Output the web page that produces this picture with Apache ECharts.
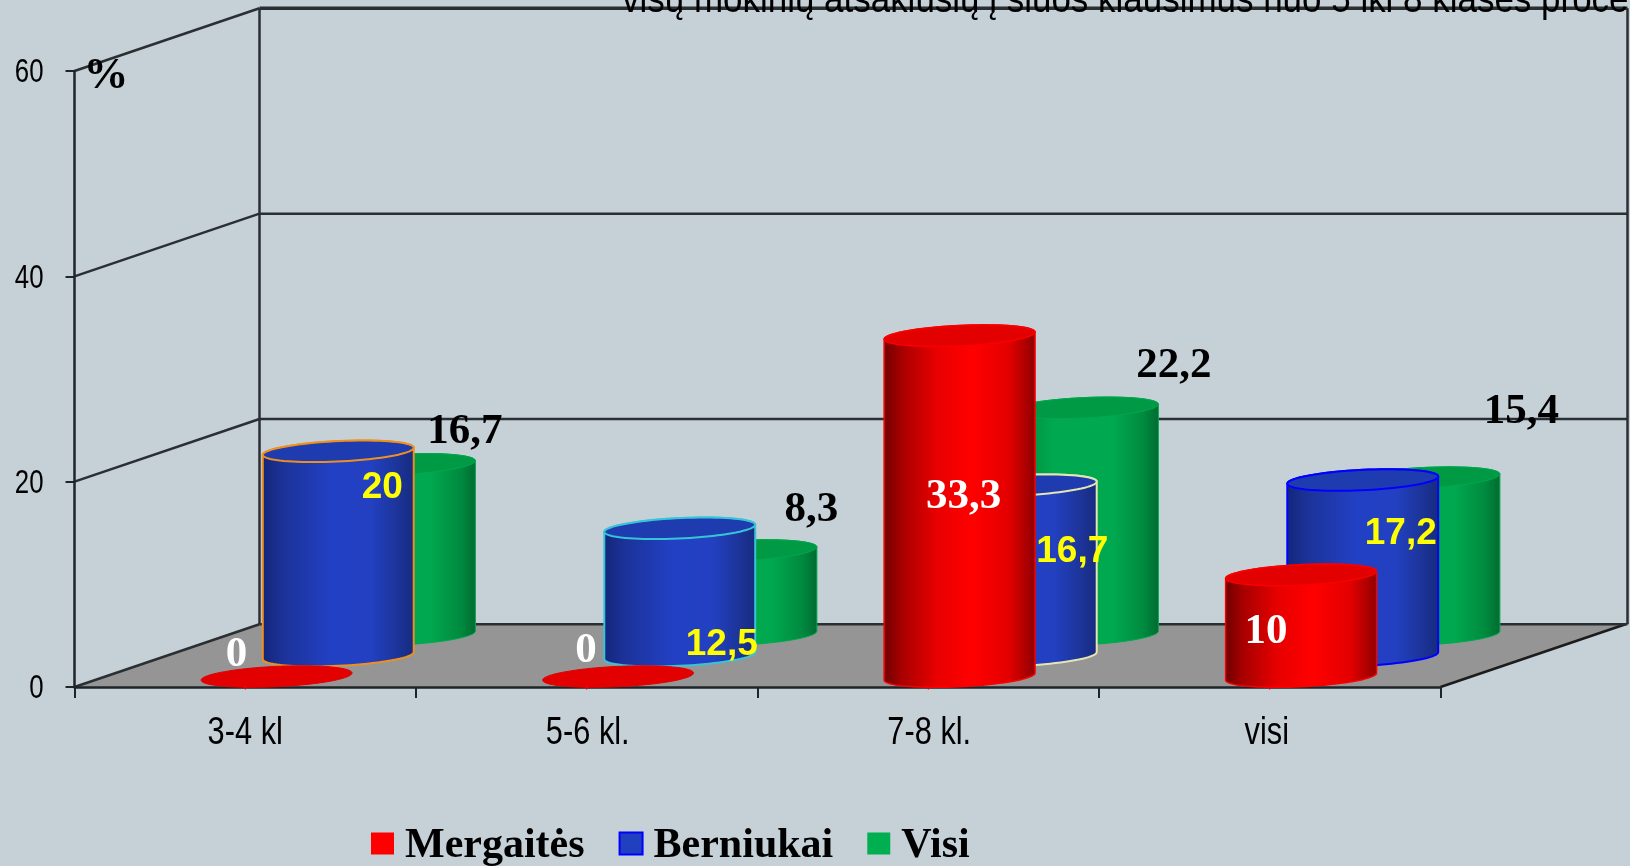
<!DOCTYPE html>
<html>
<head>
<meta charset="utf-8">
<style>html,body{margin:0;padding:0;background:#c5d0d7;overflow:hidden}#c{width:1630px;height:866px}</style>
<script src="https://cdn.jsdelivr.net/npm/echarts@6/dist/echarts.min.js"></script>
</head>
<body>
<div id="c"></div>
<script>
const categories = ['3-4 kl', '5-6 kl.', '7-8 kl.', 'visi'];
const mergaites = [0, 0, 33.3, 10];
const berniukai = [20, 12.5, 16.7, 17.2];
const visi = [16.7, 8.3, 22.2, 15.4];
const yTicks = [0, 20, 40, 60];
const titleText = 'visų mokinių atsakiusių į šiuos klausimus nuo 5 iki 8 klasės procentas';

/* label placement, px from the centre of each cylinder top */
const mergaitesShift = [[-40, -22], [-32, -26], [4, 162], [-35, 58]];
const berniukaiShift = [[44, 37], [42, 117], [51, 68], [38, 55]];
const visiShift = [[65, -31], [70, -40], [91, -41], [97, -65]];
const blueOutlines = ['#ee9020', '#38c4d8', '#e6e6b0', '#0000ff'];
/* horizontal nudge of the category captions, as they sit in the source */
const categoryLabelShift = [0, 1, 1, -3];

const DEPTH_X = 185, DEPTH_Y = -62.7;
const EL_A = 71.2, EL_VX = 25, EL_VY = 10.8;
const SERIF = '"Liberation Serif", serif';
const SANS = '"Liberation Sans", Arial, sans-serif';
const LINE = '#2a2f33';
const LINE_W = 2.5;
/* square swatch with an empty margin below, so it sits a little above the text centre */
const SWATCH = 'path://M0,0H23V22H0Z M0,28L0,28';

function hGrad(stops) {
  return {type: 'linear', x: 0, y: 0, x2: 1, y2: 0,
    colorStops: stops.map(s => ({offset: s[0], color: s[1]}))};
}
function ellipsePts(cx, cy, t0, t1, n) {
  const out = [];
  for (let i = 0; i <= n; i++) {
    const t = t0 + (t1 - t0) * i / n;
    out.push([cx + EL_A * Math.cos(t) + EL_VX * Math.sin(t), cy - EL_VY * Math.sin(t)]);
  }
  return out;
}
const tExt = Math.atan2(EL_VX, EL_A); /* parameter of the right-most point */

function cylinderSeries(cfg) {
  return {
    name: cfg.name, type: 'custom', coordinateSystem: 'cartesian2d', z: 2,
    itemStyle: {color: cfg.legend},
    encode: {x: 0, y: 1},
    data: cfg.values.map((v, i) => [i, v]),
    renderItem(params, api) {
      const i = api.value(0), v = api.value(1);
      const base = api.coord([i, 0]);
      const top = api.coord([i, v]);
      const cx = base[0] + DEPTH_X * cfg.depth + 0.5;
      const by = base[1] + DEPTH_Y * cfg.depth;
      const ty = top[1] + DEPTH_Y * cfg.depth + (v > 0 ? 1 : 0);
      const stroke = cfg.outlines ? cfg.outlines[i] : cfg.stroke;
      const sw = cfg.strokeWidth;
      const z = cfg.order * 10 + i;
      const upper = ellipsePts(cx, ty, tExt, tExt + Math.PI, 40);      /* right -> left over the back */
      const lower = ellipsePts(cx, by, tExt + Math.PI, tExt + 2 * Math.PI, 40); /* left -> right along the front */
      const topRing = ellipsePts(cx, ty, 0, Math.PI * 2, 80);
      const children = [];
      if (v > 0) {
        children.push({type: 'polygon', z2: z,
          shape: {points: upper.concat(lower)},
          style: {fill: hGrad(cfg.grad), stroke: stroke, lineWidth: sw}});
      }
      children.push({type: 'polygon', z2: z + 1,
        shape: {points: topRing},
        style: {fill: cfg.top, stroke: v > 0 ? stroke : cfg.top, lineWidth: v > 0 ? sw : 1}});
      if (cfg.blip) {
        children.push({type: 'polygon', z2: z + 2,
          shape: {points: [[base[0] - 2.5, base[1] - 1], [base[0] + 2.5, base[1] - 1], [base[0], base[1] + 3]]},
          style: {fill: '#f00000'}});
      }
      const sh = cfg.shift[i];
      children.push({type: 'text', z2: 200,
        style: {text: String(v).replace('.', ','), x: cx + sh[0], y: top[1] + DEPTH_Y * cfg.depth + sh[1],
          fill: cfg.labelColor, font: cfg.labelFont, align: 'center', verticalAlign: 'middle'}});
      return {type: 'group', children};
    }
  };
}

const wallSeries = {
  type: 'custom', coordinateSystem: 'cartesian2d', z: -1, silent: true,
  encode: {y: 0},
  data: yTicks.map(v => [v]),
  renderItem(params, api) {
    const cs = params.coordSys;
    const v = api.value(0);
    const y = api.coord([0, v])[1];
    const x0 = cs.x, x1 = cs.x + cs.width;
    const bx0 = x0 + DEPTH_X, bx1 = x1 + DEPTH_X, by = y + DEPTH_Y;
    const lw = {stroke: LINE, lineWidth: LINE_W};
    const kids = [];
    if (v === 0) {
      kids.push({type: 'polygon', shape: {points: [[x0, y], [x1, y], [bx1, by], [bx0, by]]},
        style: {fill: '#959595'}});
      kids.push({type: 'line', shape: {x1: x1, y1: y, x2: bx1, y2: by}, style: {stroke: '#1c1c1c', lineWidth: LINE_W}});
    }
    kids.push({type: 'line', shape: {x1: x0, y1: y, x2: bx0, y2: by}, style: lw});
    kids.push({type: 'line', shape: {x1: bx0, y1: by, x2: bx1 + 2, y2: by},
      style: {stroke: LINE, lineWidth: v === 60 ? 3.5 : LINE_W}});
    if (v === 60) {
      const floorY = api.coord([0, 0])[1] + DEPTH_Y;
      kids.push({type: 'line', shape: {x1: bx0, y1: by, x2: bx0, y2: floorY}, style: lw});
      kids.push({type: 'line', shape: {x1: bx1 + 2, y1: by, x2: bx1 + 2, y2: floorY}, style: lw});
    }
    /* value tick label, condensed like the source */
    kids.push({type: 'text', x: x0 - 31, y: y + 2, scaleX: 0.76,
      style: {text: String(v), font: '34px ' + SANS, fill: '#000', align: 'right', verticalAlign: 'middle'}});
    return {type: 'group', children: kids};
  }
};

const categoryLabelSeries = {
  type: 'custom', coordinateSystem: 'cartesian2d', z: 3, silent: true,
  encode: {x: 0},
  data: categories.map((c, i) => [i]),
  renderItem(params, api) {
    const i = api.value(0);
    const p = api.coord([i, 0]);
    return {type: 'text', x: p[0] + categoryLabelShift[i], y: p[1] + 47, scaleX: 0.81,
      style: {text: categories[i], font: '38px ' + SANS, fill: '#000', align: 'center', verticalAlign: 'middle'}};
  }
};

const option = {
  animation: false,
  backgroundColor: '#c5d0d7',
  graphic: [{
    type: 'text', x: 622, y: 21, scaleX: 0.92, z: 50,
    style: {text: titleText, font: '38px ' + SANS, fill: '#000', align: 'left', verticalAlign: 'bottom'}
  }],
  grid: {left: 74.5, top: 71, width: 1366, height: 616},
  legend: {
    left: 366, top: 820.5, itemWidth: 23, itemHeight: 28, itemGap: 34,
    textStyle: {fontFamily: SERIF, fontSize: 42, fontWeight: 'bold', color: '#000', padding: [0, 0, 0, 6]},
    data: [
      {name: 'Mergaitės', icon: SWATCH},
      {name: 'Berniukai', icon: SWATCH, itemStyle: {borderColor: '#0000ff', borderWidth: 2}},
      {name: 'Visi', icon: SWATCH}
    ]
  },
  xAxis: {
    type: 'category', data: categories,
    axisLine: {lineStyle: {color: '#1f2427', width: 2.5}},
    axisTick: {show: true, alignWithLabel: false, interval: 0, length: 11, lineStyle: {color: '#1f2427', width: 2}},
    axisLabel: {show: false}
  },
  yAxis: {
    type: 'value', min: 0, max: 60, interval: 20,
    name: '%', nameLocation: 'end', nameGap: -5,
    nameTextStyle: {fontFamily: SERIF, fontWeight: 'bold', fontSize: 45, color: '#000',
      align: 'left', verticalAlign: 'middle', padding: [14, 0, 0, 9]},
    axisLine: {show: true, lineStyle: {color: '#1f2427', width: 2.5}},
    axisTick: {show: true, length: 9, lineStyle: {color: '#1f2427', width: 2}},
    splitLine: {show: false},
    axisLabel: {show: false}
  },
  series: [
    wallSeries,
    categoryLabelSeries,
    cylinderSeries({name: 'Mergaitės', values: mergaites, depth: 1 / 6, order: 3, blip: true,
      legend: '#ff0000', top: '#e20000', stroke: '#fa0000', strokeWidth: 1.5,
      grad: [[0, '#6e0000'], [0.12, '#a80000'], [0.35, '#e80000'], [0.58, '#ff0000'], [0.82, '#e40000'], [1, '#8e0000']],
      shift: mergaitesShift, labelColor: '#fff', labelFont: 'bold 43px ' + SERIF}),
    cylinderSeries({name: 'Berniukai', values: berniukai, depth: 1 / 2, order: 2, outlines: blueOutlines,
      legend: '#2040c0', top: '#1f3bb0', strokeWidth: 2,
      grad: [[0, '#14267a'], [0.15, '#1c339a'], [0.45, '#2240c4'], [0.72, '#2240c0'], [0.9, '#1c3396'], [1, '#162a7c']],
      shift: berniukaiShift, labelColor: '#ffff00', labelFont: 'bold 37px ' + SANS}),
    cylinderSeries({name: 'Visi', values: visi, depth: 5 / 6, order: 1,
      legend: '#00b050', top: '#009a45', stroke: '#00a84f', strokeWidth: 1,
      grad: [[0, '#00803a'], [0.3, '#00a84f'], [0.7, '#00a84f'], [0.9, '#008a3f'], [1, '#006b30']],
      shift: visiShift, labelColor: '#000', labelFont: 'bold 43px ' + SERIF})
  ]
};
const chart = echarts.init(document.getElementById('c'), null, {renderer: 'canvas'});
chart.setOption(option);
</script>
</body>
</html>
